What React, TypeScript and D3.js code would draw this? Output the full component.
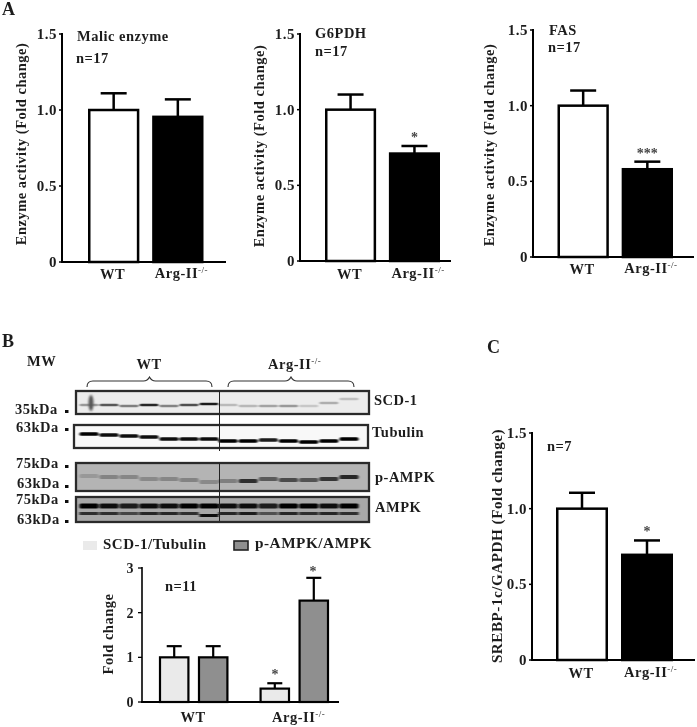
import React from "react";
import * as d3 from "d3";

const categories = ["WT", "Arg-II"];
const ticks15 = [0, 0.5, 1.0, 1.5];
const ticks3 = [0, 1, 2, 3];

const malicMeans = [1.0, 0.955];
const malicTops = [1.11, 1.07];
const g6pdhMeans = [1.0, 0.71];
const g6pdhTops = [1.10, 0.76];
const fasMeans = [1.0, 0.58];
const fasTops = [1.10, 0.63];
const srebpMeans = [1.0, 0.695];
const srebpTops = [1.105, 0.79];

const bSeries = ["SCD-1/Tubulin", "p-AMPK/AMPK"];
const scdMeans = [1.0, 0.3];
const scdTops = [1.25, 0.42];
const ampkMeans = [1.0, 2.27];
const ampkTops = [1.25, 2.78];

const lanes = d3.range(14);
const scdBands = [0.3, 0.6, 0.42, 0.85, 0.4, 0.65, 0.9, 0.14, 0.15, 0.25, 0.3, 0.08, 0.2, 0.12];
const scdShift = [0, 0, 1, 0, 1, 0, -1, 0, 1, 1, 1, 1, -2, -6];
const tubBands = [1, 0.95, 0.95, 0.95, 0.95, 0.95, 0.95, 1, 1, 0.9, 1, 1, 1, 1];
const tubShift = [-6, -5, -4, -3, -1, -1, -1, 1, 1, 0, 1, 2, 1, -1];
const pampkBands = [0.08, 0.22, 0.2, 0.18, 0.2, 0.22, 0.18, 0.25, 0.8, 0.5, 0.6, 0.55, 0.75, 0.85];
const pampkShift = [-4, -3, -3, -1, -1, 0, 2, 1, 1, -1, 0, 0, -1, -3];
const ampkUpper = [1, 0.95, 0.9, 0.95, 0.95, 1, 1, 0.95, 0.95, 0.9, 1, 1, 0.95, 1];
const ampkLower = [0.8, 0.8, 0.7, 0.85, 0.85, 0.8, 0.95, 0.85, 0.9, 0.65, 0.85, 0.8, 0.85, 0.8];

const serif = "'Liberation Serif', serif";
const TXT = "#1f1f1f";

function Sup({ x, y, size, anchor = "start" }: { x: number; y: number; size: number; anchor?: string }) {
  return (
    <text x={x} y={y} fontFamily={serif} fontWeight="bold" fontSize={size} fill={TXT} textAnchor={anchor as any} letterSpacing={0.5}>
      Arg-II<tspan dy={-5} fontSize={size * 0.62} fontWeight="normal">-/-</tspan>
    </text>
  );
}

function Label({ x, y, size = 14.5, children, anchor = "start", rotate }: any) {
  return (
    <text
      x={x}
      y={y}
      fontFamily={serif}
      fontWeight="bold"
      fontSize={size}
      fill={TXT}
      textAnchor={anchor}
      letterSpacing={0.5}
      transform={rotate ? `rotate(-90 ${x} ${y})` : undefined}
    >
      {children}
    </text>
  );
}

type PanelProps = {
  axisX: number;
  y0: number;
  y15: number;
  barL: number;
  barR: number;
  axisEnd: number;
  means: number[];
  tops: number[];
  title?: string;
  titleX?: number;
  titleY?: number;
  nText: string;
  nX: number;
  nY: number;
  yLabel: string;
  yLabelX: number;
  yLabelY: number;
  yLabelSize?: number;
  star?: string;
  catY: number;
};

function Panel(p: PanelProps) {
  const y = d3.scaleLinear().domain([0, 1.5]).range([p.y0, p.y15]);
  const x = d3.scaleBand<string>().domain(categories).range([p.barL, p.barR]).paddingInner(0.2).paddingOuter(0);
  const bw = x.bandwidth();
  const sw = 2.5;
  return (
    <g>
      <line x1={p.axisX} x2={p.axisX} y1={p.y15 - 1} y2={p.y0 + 1} stroke="#000" strokeWidth={2} />
      <line x1={p.axisX - 1} x2={p.axisEnd} y1={p.y0} y2={p.y0} stroke="#000" strokeWidth={2} />
      {ticks15.map((t) => (
        <g key={t}>
          <line x1={p.axisX - 3} x2={p.axisX} y1={y(t)} y2={y(t)} stroke="#000" strokeWidth={1.5} />
          <Label x={p.axisX - 5} y={y(t) + 5} size={15} anchor="end">
            {t === 0 ? "0" : d3.format(".1f")(t)}
          </Label>
        </g>
      ))}
      {categories.map((c, i) => {
        const left = x(c)!;
        const cx = left + bw / 2;
        return (
          <g key={c}>
            <line x1={cx} x2={cx} y1={y(p.means[i])} y2={y(p.tops[i])} stroke="#000" strokeWidth={2.5} />
            <line x1={cx - 13} x2={cx + 13} y1={y(p.tops[i])} y2={y(p.tops[i])} stroke="#000" strokeWidth={2.5} />
            <rect
              x={left + sw / 2}
              y={y(p.means[i])}
              width={bw - sw}
              height={p.y0 - y(p.means[i])}
              fill={i === 0 ? "#fff" : "#000"}
              stroke="#000"
              strokeWidth={sw}
            />
          </g>
        );
      })}
      <Label x={x("WT")! + bw / 2 - 1} y={p.catY} size={14.5} anchor="middle">WT</Label>
      <Sup x={x("Arg-II")! + bw / 2 - 23} y={p.catY - 1} size={14.5} />
      {p.title && <Label x={p.titleX} y={p.titleY}>{p.title}</Label>}
      <Label x={p.nX} y={p.nY}>{p.nText}</Label>
      <Label x={p.yLabelX} y={p.yLabelY} size={p.yLabelSize || 14.5} anchor="middle" rotate>{p.yLabel}</Label>
      {p.star && (
        <text
          x={x("Arg-II")! + bw / 2}
          y={y(p.tops[1]) - 4}
          textAnchor="middle"
          fontFamily={serif}
          fontWeight="bold"
          fontSize={14}
          fill="#444"
        >
          {p.star}
        </text>
      )}
    </g>
  );
}

function Brace({ x0, x1, y }: { x0: number; x1: number; y: number }) {
  const m = (x0 + x1) / 2;
  const d = `M${x0} ${y + 6} Q${x0} ${y} ${x0 + 6} ${y} L${m - 6} ${y} Q${m - 2} ${y} ${m} ${y - 4} Q${m + 2} ${y} ${m + 6} ${y} L${x1 - 6} ${y} Q${x1} ${y} ${x1} ${y + 6}`;
  return <path d={d} fill="none" stroke="#333" strokeWidth={1.1} />;
}

const laneX = d3.scaleLinear().domain([0, 6]).range([89, 209]);
const laneX2 = d3.scaleLinear().domain([7, 13]).range([228, 349]);
const lanePos = (i: number) => (i < 7 ? laneX(i) : laneX2(i));
const bandGray = d3.scaleLinear<string>().domain([0, 1]).range(["#d8d8d8", "#050505"]);

function Blot({ x = 76, w = 293, y, h, bg, bands, shift, bandY, thick, grayFn }: any) {
  return (
    <g>
      <rect x={x} y={y} width={w} height={h} fill={bg} />
      <g filter="url(#bandBlur)">
        {lanes.map((i) => (
          <rect
            key={i}
            x={lanePos(i) - 9.5}
            y={bandY + (shift ? shift[i] : 0) - thick / 2}
            width={19}
            height={thick}
            rx={1.5}
            fill={(grayFn || bandGray)(bands[i])}
          />
        ))}
      </g>
      <rect x={x} y={y} width={w} height={h} fill="none" stroke="#2a2a2a" strokeWidth={2.3} />
    </g>
  );
}

function BottomB() {
  const y = d3.scaleLinear().domain([0, 3]).range([702, 568]);
  const outer = d3.scaleBand<string>().domain(categories).range([159, 329]).paddingInner(0.31).paddingOuter(0);
  const inner = d3.scaleBand<string>().domain(bSeries).range([0, outer.bandwidth()]).paddingInner(0.22);
  const bw = inner.bandwidth();
  const series = [
    { name: bSeries[0], means: scdMeans, tops: scdTops, fill: "#eaeaea" },
    { name: bSeries[1], means: ampkMeans, tops: ampkTops, fill: "#8f8f8f" },
  ];
  return (
    <g>
      <line x1={142} x2={142} y1={567} y2={703} stroke="#000" strokeWidth={1.6} />
      <line x1={141} x2={339} y1={702} y2={702} stroke="#000" strokeWidth={1.8} />
      {ticks3.map((t) => (
        <g key={t}>
          <line x1={138} x2={142} y1={y(t)} y2={y(t)} stroke="#000" strokeWidth={1.3} />
          <Label x={134} y={y(t) + 5} size={14} anchor="end">{t}</Label>
        </g>
      ))}
      {series.map((s) =>
        categories.map((c, i) => {
          const left = outer(c)! + inner(s.name)!;
          const cx = left + bw / 2;
          return (
            <g key={s.name + c}>
              <line x1={cx} x2={cx} y1={y(s.means[i])} y2={y(s.tops[i])} stroke="#000" strokeWidth={2.2} />
              <line x1={cx - 7.5} x2={cx + 7.5} y1={y(s.tops[i])} y2={y(s.tops[i])} stroke="#000" strokeWidth={2.2} />
              <rect
                x={left + 1}
                y={y(s.means[i])}
                width={bw - 2}
                height={702 - y(s.means[i])}
                fill={s.fill}
                stroke="#000"
                strokeWidth={2.2}
              />
            </g>
          );
        })
      )}
      <Label x={193} y={722} anchor="middle">WT</Label>
      <Sup x={272} y={722} size={14.5} />
      <Label x={165} y={591}>n=11</Label>
      <Label x={113} y={634} anchor="middle" rotate>Fold change</Label>
      <text x={275} y={679} textAnchor="middle" fontFamily={serif} fontWeight="bold" fontSize={14} fill="#444">*</text>
      <text x={313} y={576} textAnchor="middle" fontFamily={serif} fontWeight="bold" fontSize={14} fill="#444">*</text>
    </g>
  );
}

export default function App() {
  return (
    <svg
      width={697}
      height={727}
      viewBox="0 0 697 727"
      style={{ position: "absolute", left: 0, top: 0, background: "#fff" }}
    >
      <defs>
        <filter id="bandBlur" x="-5%" y="-50%" width="110%" height="200%">
          <feGaussianBlur stdDeviation="0.8 0.5" />
        </filter>
        <filter id="smudge" x="-100%" y="-100%" width="300%" height="300%">
          <feGaussianBlur stdDeviation="1.2" />
        </filter>
        <filter id="soft" x="0" y="0" width="100%" height="100%">
          <feGaussianBlur stdDeviation="0.45" />
        </filter>
      </defs>
      <rect width={697} height={727} fill="#fff" />
      <g filter="url(#soft)">
        <Label x={2} y={15} size={18}>A</Label>
        <Label x={2} y={347} size={18}>B</Label>
        <Label x={487} y={353} size={18}>C</Label>

        <Panel axisX={62} y0={262} y15={34} barL={88} barR={203.5} axisEnd={226} means={malicMeans} tops={malicTops}
          title="Malic enzyme" titleX={77} titleY={41} nText="n=17" nX={76} nY={63}
          yLabel="Enzyme activity (Fold change)" yLabelX={26} yLabelY={144} catY={279} />
        <Panel axisX={300} y0={261} y15={34} barL={325} barR={440} axisEnd={451} means={g6pdhMeans} tops={g6pdhTops}
          title="G6PDH" titleX={315} titleY={38} nText="n=17" nX={315} nY={56} star="*"
          yLabel="Enzyme activity (Fold change)" yLabelX={264} yLabelY={146} catY={279} />
        <Panel axisX={533} y0={257} y15={30} barL={557.5} barR={673} axisEnd={694} means={fasMeans} tops={fasTops}
          title="FAS" titleX={549} titleY={35} nText="n=17" nX={548} nY={52} star="***"
          yLabel="Enzyme activity (Fold change)" yLabelX={494} yLabelY={145} catY={274} />
        <Panel axisX={532} y0={660} y15={433} barL={556} barR={673} axisEnd={695} means={srebpMeans} tops={srebpTops}
          nText="n=7" nX={547} nY={451} star="*"
          yLabel="SREBP-1c/GAPDH (Fold change)" yLabelX={502} yLabelY={546} yLabelSize={15.2} catY={678} />

        <Label x={27} y={366}>MW</Label>
        <Label x={149} y={369} anchor="middle">WT</Label>
        <Sup x={268} y={369} size={14.5} />
        <Brace x0={87} x1={212} y={381} />
        <Brace x0={228} x1={354} y={381} />

        <Blot y={391} h={23} bg="#ececec" bands={scdBands} shift={scdShift} bandY={405} thick={2.6} />
        <ellipse cx={91} cy={403} rx={2.5} ry={8} fill="#555" filter="url(#smudge)" />
        <Blot x={74} w={294} y={425} h={23} bg="#f8f8f8" bands={tubBands} shift={tubShift} bandY={440} thick={3.6} />
        <Blot y={463} h={28} bg="#b4b4b4" bands={pampkBands} shift={pampkShift} bandY={480} thick={4}
          grayFn={d3.scaleLinear<string>().domain([0, 1]).range(["#a4a4a4", "#101010"])} />
        <Blot y={497} h={25} bg="#a8a8a8" bands={ampkUpper} bandY={506} thick={5} />
        <g filter="url(#bandBlur)">
          {lanes.map((i) => (
            <rect key={i} x={lanePos(i) - 9.5} y={512 + (i === 6 ? 2 : 0)} width={19} height={3} fill={bandGray(ampkLower[i])} />
          ))}
        </g>
        <line x1={219.5} x2={219.5} y1={391} y2={451} stroke="#222" strokeWidth={1} />
        <line x1={219.5} x2={219.5} y1={463} y2={521} stroke="#222" strokeWidth={1} />

        <Label x={374} y={405}>SCD-1</Label>
        <Label x={372} y={437}>Tubulin</Label>
        <Label x={375} y={482}>p-AMPK</Label>
        <Label x={375} y={512}>AMPK</Label>

        <Label x={15} y={414}>35kDa</Label>
        <Label x={16} y={432}>63kDa</Label>
        <Label x={16} y={468}>75kDa</Label>
        <Label x={17} y={488}>63kDa</Label>
        <Label x={16} y={504}>75kDa</Label>
        <Label x={17} y={524}>63kDa</Label>
        {[410, 428, 465, 485, 500, 520].map((v) => (
          <rect key={v} x={65} y={v} width={3.5} height={3} fill="#111" />
        ))}

        <rect x={83} y={541} width={14} height={9} fill="#eaeaea" />
        <Label x={103} y={549} size={15}>{bSeries[0]}</Label>
        <rect x={234} y={541} width={14} height={9} fill="#8f8f8f" stroke="#222" strokeWidth={1.6} />
        <Label x={255} y={548} size={15.3}>{bSeries[1]}</Label>
        <BottomB />
      </g>
    </svg>
  );
}
